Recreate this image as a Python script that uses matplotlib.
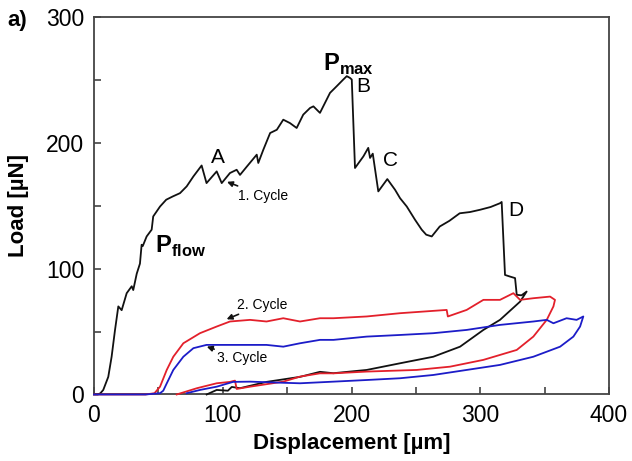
import matplotlib
matplotlib.use("Agg")
import matplotlib.pyplot as plt

plt.rcParams['font.family'] = ['Liberation Sans', 'DejaVu Sans']
plt.rcParams['mathtext.fontset'] = 'custom'
plt.rcParams['mathtext.rm'] = 'Liberation Sans'
plt.rcParams['mathtext.bf'] = 'Liberation Sans:bold'

# cycle 1 (black): loading, load drops, then unloading
c1_x = [0, 3, 5, 7.2, 11.1, 13.7, 16.3, 18.9, 21.5, 25.4, 29.3, 30.5, 33.2, 35.7, 37, 37.9,
        40.9, 44.8, 46, 51.3, 56.1, 61.2, 66.8, 72, 77.2, 83.6, 87.4, 95.3, 99.2, 105.6,
        110.8, 113.4, 118.6, 126.4, 127.6, 131.5, 136.8, 142, 147, 152.2, 157.4, 162.5,
        167.8, 170.4, 175.5, 183.3, 188.5, 193.6, 196.3, 198.8, 200.2, 202.7, 209.2, 213,
        214.4, 216.5, 220.8, 227.8, 233.8, 237.7, 242.9, 249.3, 254.5, 258, 262.3, 268.5,
        276, 284, 292, 299.8, 308, 315.3, 316.6, 319.2, 323.1, 327, 328.3, 332, 336,
        330.9, 315.3, 302.4, 284.3, 263.5, 237.7, 211.8, 185.9, 175.5, 160, 134, 113.4,
        107, 104, 95.3, 87.5]
c1_y = [0, 0, 1, 3.6, 14, 30, 51, 70, 67, 80.5, 86, 83, 96, 104, 119, 118,
        125.6, 131, 141.5, 149.4, 154.8, 157.4, 160, 165.4, 173.3, 182, 168, 177.3, 168, 176,
        178.6, 174.5, 181, 190.6, 184, 194.5, 207.8, 210.4, 218.4, 215.7, 211.8, 222.4,
        227.7, 229, 223.8, 239.7, 245, 250.3, 253, 251.6, 250.3, 180, 189.2, 196,
        188, 191.4, 161.4, 171.2, 162.7, 156, 149.4, 138.9, 131, 127, 125.6, 133.5,
        138, 144, 145, 146.8, 149, 152, 153, 95, 93.7, 92.5, 79.2, 78.8, 81.8,
        73.8, 59.3, 51.3, 38, 30, 24.8, 19.5, 16.9, 18, 14, 10, 5,
        6, 3, 3.6, 0]

# cycle 2 (red)
c2_x = [0, 20, 40, 47, 51.3, 56.5, 61.6, 69.4, 82.3, 95.3, 105.6, 121.2, 134, 147, 160,
        175.5, 186, 211.8, 237.7, 273.9, 274.8, 289.4, 302.4, 315.3, 325.7, 330.9, 341.2,
        354.2, 358, 356.8, 351.6, 341.2, 328.3, 302.4, 276.5, 250.6, 211.8, 185.9, 175.5,
        160, 147, 121.2, 110.8, 109.5, 105.6, 95.3, 80, 64.2]
c2_y = [0, 0, 0, 1, 6.2, 19.5, 30, 40.7, 48.7, 54, 58, 59.3, 58, 60.6, 58,
        60.6, 60.6, 62, 64.6, 67.2, 62, 67.2, 75.2, 75.2, 80.5, 75.2, 76.5,
        77.8, 75.2, 70, 59.3, 46, 35.4, 27.5, 22.1, 19.5, 18.2, 16.8, 16.8,
        14.2, 10.2, 6.2, 4.4, 11, 10, 8.9, 5, 0]

# cycle 3 (blue)
c3_x = [0, 20, 40, 51.3, 53.8, 56.5, 61.6, 69.4, 77.2, 87.4, 107.7, 134, 147, 160, 175.5,
        186, 211.8, 237.7, 263.5, 289.4, 315.3, 341.2, 351.6, 356.8, 367, 374.8, 380,
        377.5, 372.3, 362, 341.2, 315.3, 289.4, 263.5, 237.7, 211.8, 186, 160, 147,
        121.2, 108, 95.3, 82.3, 72]
c3_y = [0, 0, 0, 1, 3, 8.8, 19.5, 30, 36.8, 39.4, 39.4, 39.4, 38, 40.7, 43.4,
        43.4, 46, 47.3, 48.7, 51.3, 55.3, 58, 59.3, 56.6, 60.6, 59.3, 62,
        54, 46, 38, 30, 23.5, 19.5, 15.5, 12.9, 11.5, 10.2, 8.9, 9.3,
        10.2, 10, 6.2, 3.6, 1]

fig = plt.figure(figsize=(6.32, 4.61), dpi=100)
ax = fig.add_axes([0.1487, 0.1443, 0.815, 0.8188])

ax.plot(c1_x, c1_y, color='#111111', lw=1.3, zorder=3, clip_on=False)
ax.plot(c2_x, c2_y, color='#e3202b', lw=1.3, zorder=3, clip_on=False)
ax.plot(c3_x, c3_y, color='#1c1cc8', lw=1.3, zorder=3, clip_on=False)

ax.set_xlim(0, 400)
ax.set_ylim(0, 300)
ax.set_xticks([0, 100, 200, 300, 400])
ax.set_yticks([0, 100, 200, 300])
ax.set_xticks([50, 150, 250, 350], minor=True)
ax.set_yticks([50, 150, 250], minor=True)
ax.tick_params(which='both', direction='in', length=5, width=1.2, color='#444444',
               top=False, right=False, labelsize=16.5, pad=7)
for s in ax.spines.values():
    s.set_linewidth(1.3)
    s.set_color('#444444')

ax.set_xlabel('Displacement [µm]', fontsize=16, fontweight='bold', labelpad=4)
ax.set_ylabel('Load [µN]', fontsize=16, fontweight='bold', labelpad=12)

fig.text(0.012, 0.955, 'a)', fontsize=16, fontweight='bold', va='center')

ax.text(96.3, 188, 'A', fontsize=15, ha='center', va='center')
ax.text(209, 244.7, 'B', fontsize=15, ha='center', va='center')
ax.text(229.9, 185.8, 'C', fontsize=15, ha='center', va='center')
ax.text(327.8, 146, 'D', fontsize=15, ha='center', va='center')
ax.text(178, 262, r'$\mathbf{P}_{\mathbf{max}}$', fontsize=17, ha='left', va='center')
ax.text(47, 118, r'$\mathbf{P}_{\mathbf{flow}}$', fontsize=17, ha='left', va='center')

arr = dict(arrowstyle='-|>', color='#111111', lw=1.2, mutation_scale=8,
           shrinkA=0, shrinkB=0)
ax.annotate('1. Cycle', xy=(103.3, 169), xytext=(112, 158), fontsize=10,
            va='center', ha='left', arrowprops=arr)
ax.annotate('2. Cycle', xy=(103, 59.8), xytext=(111, 71.5), fontsize=10,
            va='center', ha='left', arrowprops=arr)
ax.annotate('3. Cycle', xy=(87.6, 38), xytext=(95.5, 28.6), fontsize=10,
            va='center', ha='left', arrowprops=arr)

fig.savefig('out.png', dpi=100)
